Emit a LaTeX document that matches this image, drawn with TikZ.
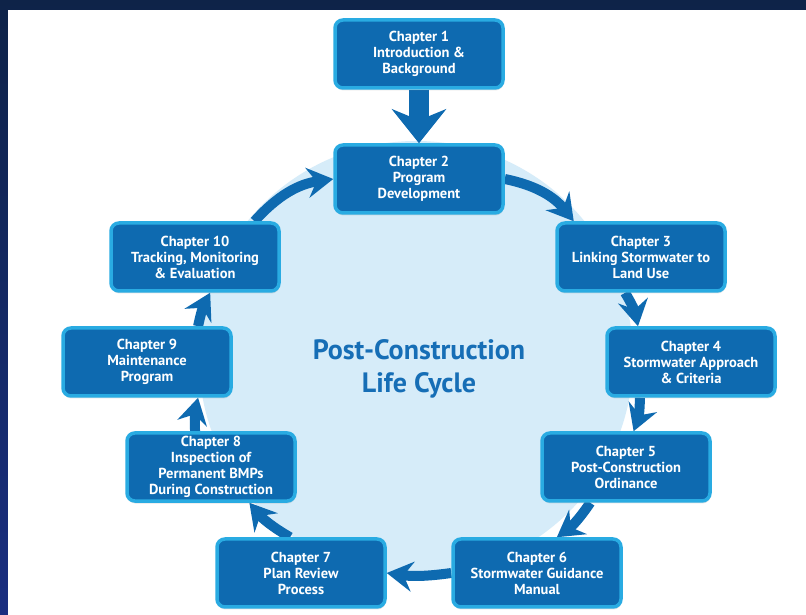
\documentclass[tikz,border=0pt]{standalone}
\usepackage{fontspec}
\setmainfont{PT Sans}
\usepackage{xcolor}
\usepackage{tikz}
\usetikzlibrary{arrows.meta,positioning,shadows,backgrounds}
\definecolor{chapblue}{RGB}{14,106,176}
\definecolor{chapedge}{RGB}{41,171,226}
\definecolor{cyclefill}{RGB}{214,236,249}
\definecolor{titleblue}{RGB}{22,110,182}
\definecolor{slidetop}{RGB}{14,35,72}
\definecolor{slidebottom}{RGB}{26,46,128}

\begin{document}
\begin{tikzpicture}[
    x=1pt, y=1pt,
    chapter/.style={rectangle, draw=chapedge, line width=3.5pt, fill=chapblue, text=white, align=center, minimum width=168pt, minimum height=68pt, rounded corners=8pt, font=\fontsize{14.5}{16}\selectfont\bfseries, drop shadow={shadow xshift=0.5pt, shadow yshift=-2.5pt, opacity=0.2}},
    cycletitle/.style={text=titleblue, align=center, font=\fontsize{28}{33}\selectfont\bfseries},
    flow/.style={-{Stealth[length=26pt, width=30pt, inset=9pt]}, line width=10pt, chapblue},
    bigflow/.style={-{Stealth[length=34pt, width=54pt, inset=11pt]}, line width=20pt, chapblue}
]
    \useasboundingbox (0,0) rectangle (806,615);

    % Chapters round the cycle
    \node[chapter] (ch1) at (419,561) {Chapter 1\\Introduction \&\\Background};
    \node[chapter] (ch2) at (419,436) {Chapter 2\\Program\\Development};
    \node[chapter] (ch3) at (641,358) {Chapter 3\\Linking Stormwater to\\Land Use};
    \node[chapter] (ch4) at (691,253) {Chapter 4\\Stormwater Approach\\\& Criteria};
    \node[chapter] (ch5) at (626,148) {Chapter 5\\Post-Construction\\Ordinance};
    \node[chapter] (ch6) at (537,42) {Chapter 6\\Stormwater Guidance\\Manual};
    \node[chapter] (ch7) at (301,42) {Chapter 7\\Plan Review\\Process};
    \node[chapter] (ch8) at (211,148) {Chapter 8\\Inspection of\\Permanent BMPs\\During Construction};
    \node[chapter] (ch9) at (147,253) {Chapter 9\\Maintenance\\Program};
    \node[chapter] (ch10) at (195,358) {Chapter 10\\Tracking, Monitoring\\\& Evaluation};

    % Title
    \node[cycletitle] (lifecycle) at (419,246) {Post-Construction\\Life Cycle};

    \begin{scope}[on background layer]
        % Slide and cycle
        \shade[top color=slidetop, bottom color=slidebottom] (0,0) rectangle (806,615);
        \fill[white] (8,0) rectangle (806,605);
        \fill[cyclefill] (416,257) circle (217);

        % Arrows
        \draw[bigflow] (ch1.south) -- (ch2.north);
        \draw[flow] (ch2.east) to[bend left=20] (ch3.152);
        \draw[flow] (ch3.246) to[bend left=10] (ch4.146);
        \draw[flow] (ch4.215) to[bend left=10] (ch5.78);
        \draw[flow] (ch5.225) to[bend left=10] (ch6.61);
        \draw[flow] (ch6.west) to[bend left=8] (ch7.east);
        \draw[flow] (ch7.107) to[bend left=10] (ch8.-43);
        \draw[flow] (ch8.114) to[bend left=8] (ch9.-35);
        \draw[flow] (ch9.35) to[bend left=8] (ch10.-67);
        \draw[flow] (ch10.31) to[bend left=20] (ch2.west);
    \end{scope}
\end{tikzpicture}
\end{document}
